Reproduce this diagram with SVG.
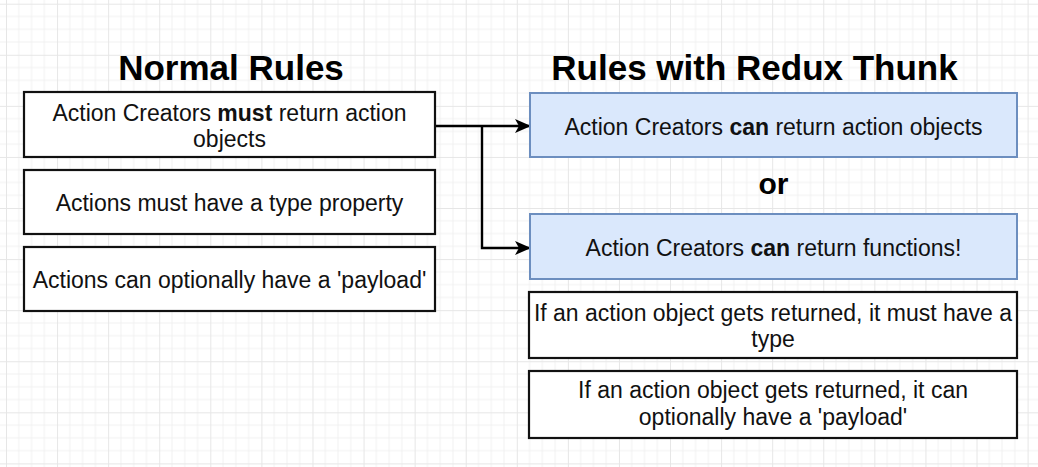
<svg xmlns="http://www.w3.org/2000/svg" width="1038" height="467" viewBox="0 0 1038 467">
  <style>
    .t{font-family:"Liberation Sans",Arial,sans-serif;font-size:23px;fill:#111;text-anchor:middle}
    .h{font-family:"Liberation Sans",Arial,sans-serif;font-weight:bold;fill:#000;text-anchor:middle}
    .b{font-weight:bold}
    .box{fill:#fff;stroke:#111;stroke-width:2.2}
    .blue{fill:#dae8fc;stroke:#6c8ebf;stroke-width:2}
    .edge{fill:none;stroke:#000;stroke-width:2.4}
  </style>
  <defs>
    <pattern id="grid" x="6" y="3.7" width="51.08" height="51.08" patternUnits="userSpaceOnUse">
      <path d="M12.77 0V51.08M25.54 0V51.08M38.31 0V51.08M0 12.77H51.08M0 25.54H51.08M0 38.31H51.08" fill="none" stroke="#f1f1f1" stroke-width="1"/>
      <path d="M0.5 0V51.08M0 0.5H51.08" fill="none" stroke="#e6e6e6" stroke-width="1"/>
    </pattern>
    <marker id="arr" viewBox="0 0 16 14" refX="15" refY="7" markerWidth="16" markerHeight="14" markerUnits="userSpaceOnUse" orient="auto">
      <path d="M0 0L16 7L0 14L4 7Z" fill="#000"/>
    </marker>
  </defs>
  <rect width="1038" height="467" fill="#fff"/>
  <rect width="1038" height="467" fill="url(#grid)"/>

  <g id="title-normal"><text class="h" x="231" y="80" font-size="35">Normal Rules</text></g>
  <g id="title-thunk"><text class="h" x="754.5" y="80" font-size="35">Rules with Redux Thunk</text></g>

  <g id="connectors">
    <path class="edge" d="M435 126H530" marker-end="url(#arr)"/>
    <path class="edge" d="M482 126V248H530" marker-end="url(#arr)"/>
  </g>

  <g id="n1">
    <rect class="box" x="24" y="92" width="411" height="65"/>
    <text class="t" x="229.5" y="121">Action Creators <tspan class="b">must</tspan> return action</text>
    <text class="t" x="229.5" y="147">objects</text>
  </g>
  <g id="n2">
    <rect class="box" x="24" y="170" width="411" height="64"/>
    <text class="t" x="229.5" y="211">Actions must have a type property</text>
  </g>
  <g id="n3">
    <rect class="box" x="24" y="247" width="411" height="64"/>
    <text class="t" x="229.5" y="288">Actions can optionally have a 'payload'</text>
  </g>

  <g id="r1">
    <rect class="blue" x="530" y="93" width="487" height="64"/>
    <text class="t" x="773.5" y="135">Action Creators <tspan class="b">can</tspan> return action objects</text>
  </g>
  <g id="or"><text class="h" x="773.5" y="194" font-size="30">or</text></g>
  <g id="r2">
    <rect class="blue" x="530" y="214" width="487" height="65"/>
    <text class="t" x="773.5" y="256">Action Creators <tspan class="b">can</tspan> return functions!</text>
  </g>
  <g id="r3">
    <rect class="box" x="529" y="292" width="488" height="66"/>
    <text class="t" x="773" y="321">If an action object gets returned, it must have a</text>
    <text class="t" x="773" y="347">type</text>
  </g>
  <g id="r4">
    <rect class="box" x="529" y="371" width="488" height="67"/>
    <text class="t" x="773" y="398">If an action object gets returned, it can</text>
    <text class="t" x="773" y="425">optionally have a 'payload'</text>
  </g>
</svg>
